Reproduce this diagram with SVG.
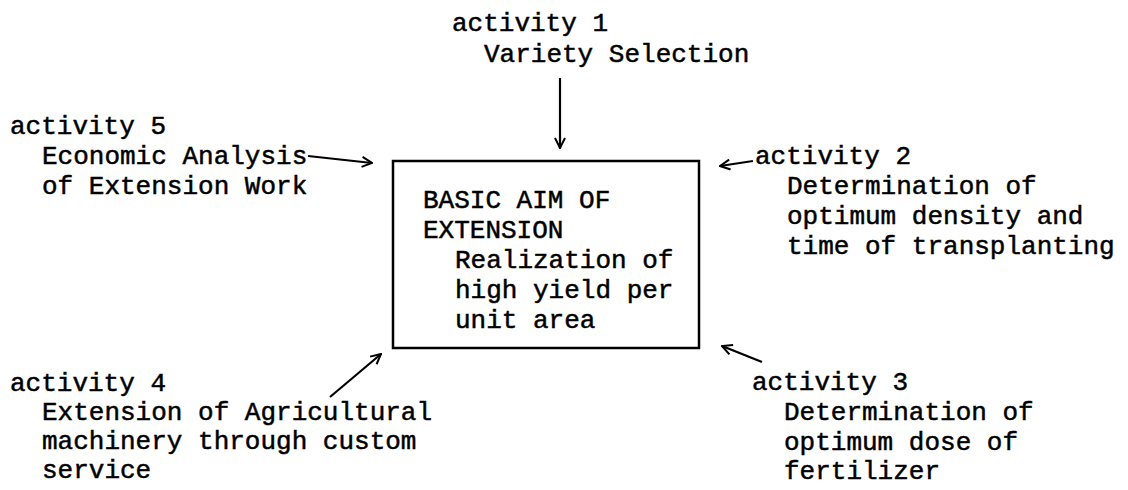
<svg xmlns="http://www.w3.org/2000/svg" width="1128" height="490" viewBox="0 0 1128 490">
<defs>
<style>
text{font-family:"Liberation Mono","DejaVu Sans Mono",monospace;font-size:26px;fill:#000;stroke:#000;stroke-width:0.5}
.c{stroke:#000;stroke-width:2.2;fill:none;marker-end:url(#ah)}
.box{fill:#fff;stroke:#000;stroke-width:2.5}
</style>
<marker id="ah" viewBox="0 0 12 12" refX="11" refY="6" markerWidth="12" markerHeight="12" markerUnits="userSpaceOnUse" orient="auto">
<path d="M1,1 L11,6 L1,11" fill="none" stroke="#000" stroke-width="2"/>
</marker>
</defs>
<rect width="1128" height="490" fill="#fff"/>
<g id="connectors">
<line class="c" x1="560" y1="78" x2="560" y2="148"/>
<line class="c" x1="308" y1="156" x2="372" y2="163"/>
<line class="c" x1="753" y1="161" x2="720" y2="166"/>
<line class="c" x1="762" y1="362" x2="722" y2="346"/>
<line class="c" x1="330" y1="397" x2="381" y2="354"/>
</g>
<g id="center">
<rect class="box" x="393" y="161" width="306" height="187"/>
<text x="423" y="208">BASIC AIM OF</text>
<text x="423" y="238">EXTENSION</text>
<text x="455" y="268">Realization of</text>
<text x="455" y="298">high yield per</text>
<text x="455" y="328">unit area</text>
</g>
<g id="activity1">
<text x="452" y="31">activity 1</text>
<text x="484" y="62">Variety Selection</text>
</g>
<g id="activity2">
<text x="755" y="164">activity 2</text>
<text x="787" y="194">Determination of</text>
<text x="787" y="224">optimum density and</text>
<text x="787" y="254">time of transplanting</text>
</g>
<g id="activity3">
<text x="752" y="390">activity 3</text>
<text x="784" y="420">Determination of</text>
<text x="784" y="450">optimum dose of</text>
<text x="784" y="479">fertilizer</text>
</g>
<g id="activity4">
<text x="10" y="391">activity 4</text>
<text x="42" y="420">Extension of Agricultural</text>
<text x="42" y="449">machinery through custom</text>
<text x="42" y="478">service</text>
</g>
<g id="activity5">
<text x="10" y="134">activity 5</text>
<text x="42" y="164">Economic Analysis</text>
<text x="42" y="194">of Extension Work</text>
</g>
</svg>
